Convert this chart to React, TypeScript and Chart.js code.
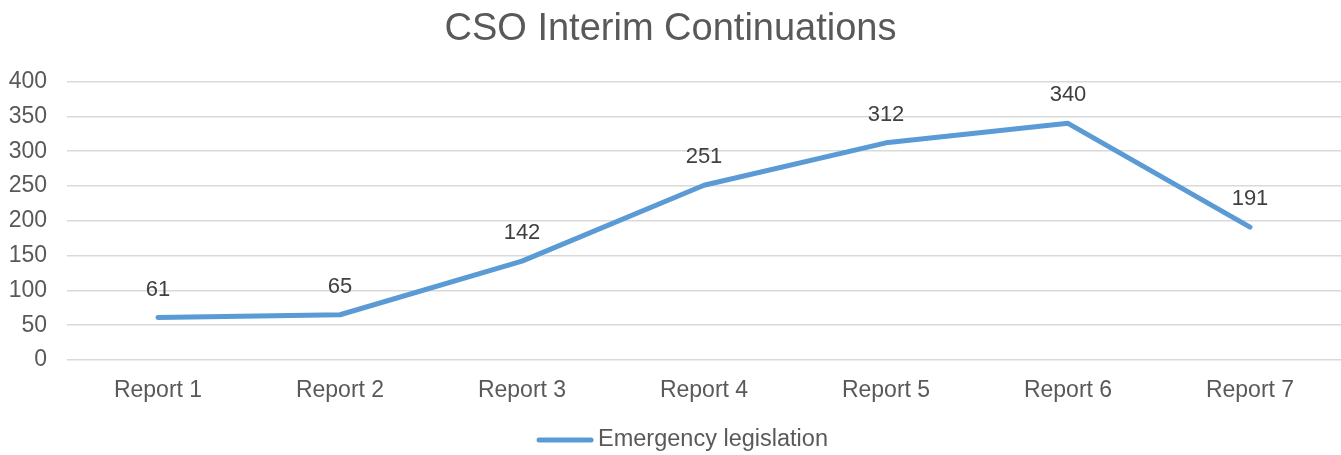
import React, { useEffect, useRef } from "react";
import { Chart, registerables } from "chart.js";

Chart.register(...registerables);

const categories = ["Report 1", "Report 2", "Report 3", "Report 4", "Report 5", "Report 6", "Report 7"];
const emergencyLegislation = [61, 65, 142, 251, 312, 340, 191];
const yTicks = [0, 50, 100, 150, 200, 250, 300, 350, 400];
const seriesName = "Emergency legislation";

const FONT = "'Liberation Sans', Arial, sans-serif";
const TEXT = "#595959";
const LINE = "#5B9BD5";

const dataLabels = {
  id: "dataLabels",
  afterDatasetsDraw(chart: any) {
    const ctx = chart.ctx;
    const meta = chart.getDatasetMeta(0);
    const ds = chart.data.datasets[0];
    ctx.save();
    ctx.font = `22px ${FONT}`;
    ctx.fillStyle = "#404040";
    ctx.textAlign = "center";
    ctx.textBaseline = "middle";
    meta.data.forEach((pt: any, i: number) => {
      ctx.fillText(String(ds.data[i]), pt.x, pt.y - 28);
    });
    ctx.restore();
  },
};

const bottomLegend = {
  id: "bottomLegend",
  afterDraw(chart: any) {
    const ctx = chart.ctx;
    ctx.save();
    ctx.font = `23.5px ${FONT}`;
    const tw = ctx.measureText(seriesName).width;
    const lineW = 56;
    const gap = 5;
    const total = lineW + gap + tw;
    const x0 = chart.width / 2 - total / 2 + 12;
    const y = chart.chartArea.bottom + 80;
    ctx.strokeStyle = LINE;
    ctx.lineWidth = 5;
    ctx.lineCap = "round";
    ctx.beginPath();
    ctx.moveTo(x0 + 2, y);
    ctx.lineTo(x0 + lineW - 2, y);
    ctx.stroke();
    ctx.fillStyle = TEXT;
    ctx.textAlign = "left";
    ctx.textBaseline = "middle";
    ctx.fillText(seriesName, x0 + lineW + gap, y);
    ctx.restore();
  },
};

export default function App() {
  const ref = useRef<HTMLCanvasElement>(null);
  useEffect(() => {
    document.body.style.margin = "0";
    const chart = new Chart(ref.current!, {
      type: "line",
      data: {
        labels: categories,
        datasets: [
          {
            label: seriesName,
            data: emergencyLegislation,
            borderColor: LINE,
            backgroundColor: LINE,
            borderWidth: 5,
            pointRadius: 0,
            tension: 0,
            borderCapStyle: "round",
            borderJoinStyle: "round",
          },
        ],
      },
      options: {
        animation: false,
        responsive: false,
        maintainAspectRatio: false,
        layout: { padding: { left: 0, right: 0, top: 0, bottom: 29 } },
        scales: {
          x: {
            offset: true,
            grid: { display: false, drawTicks: false },
            border: { display: false },
            ticks: { color: TEXT, font: { family: FONT, size: 23 }, padding: 17 },
            afterFit: (axis: any) => {
              axis.height = 66;
            },
          },
          y: {
            min: 0,
            max: 400,
            afterBuildTicks: (axis: any) => {
              axis.ticks = yTicks.map((v) => ({ value: v }));
            },
            grid: { color: "#d9d9d9", lineWidth: 1.5, drawTicks: false },
            border: { display: false },
            ticks: { color: TEXT, font: { family: FONT, size: 23 }, padding: 20 },
            afterFit: (axis: any) => {
              axis.width = 67;
            },
          },
        },
        plugins: {
          title: {
            display: true,
            text: "CSO Interim Continuations",
            color: TEXT,
            font: { family: FONT, size: 38, weight: "normal" },
            padding: { top: 7, bottom: 29 },
          },
          legend: { display: false },
          tooltip: { enabled: false },
        },
      },
      plugins: [dataLabels, bottomLegend],
    });
    return () => chart.destroy();
  }, []);
  return (
    <div style={{ position: "fixed", left: 0, top: 0, width: 1341, height: 455 }}>
      <canvas ref={ref} width={1341} height={455} style={{ width: 1341, height: 455 }} />
    </div>
  );
}
